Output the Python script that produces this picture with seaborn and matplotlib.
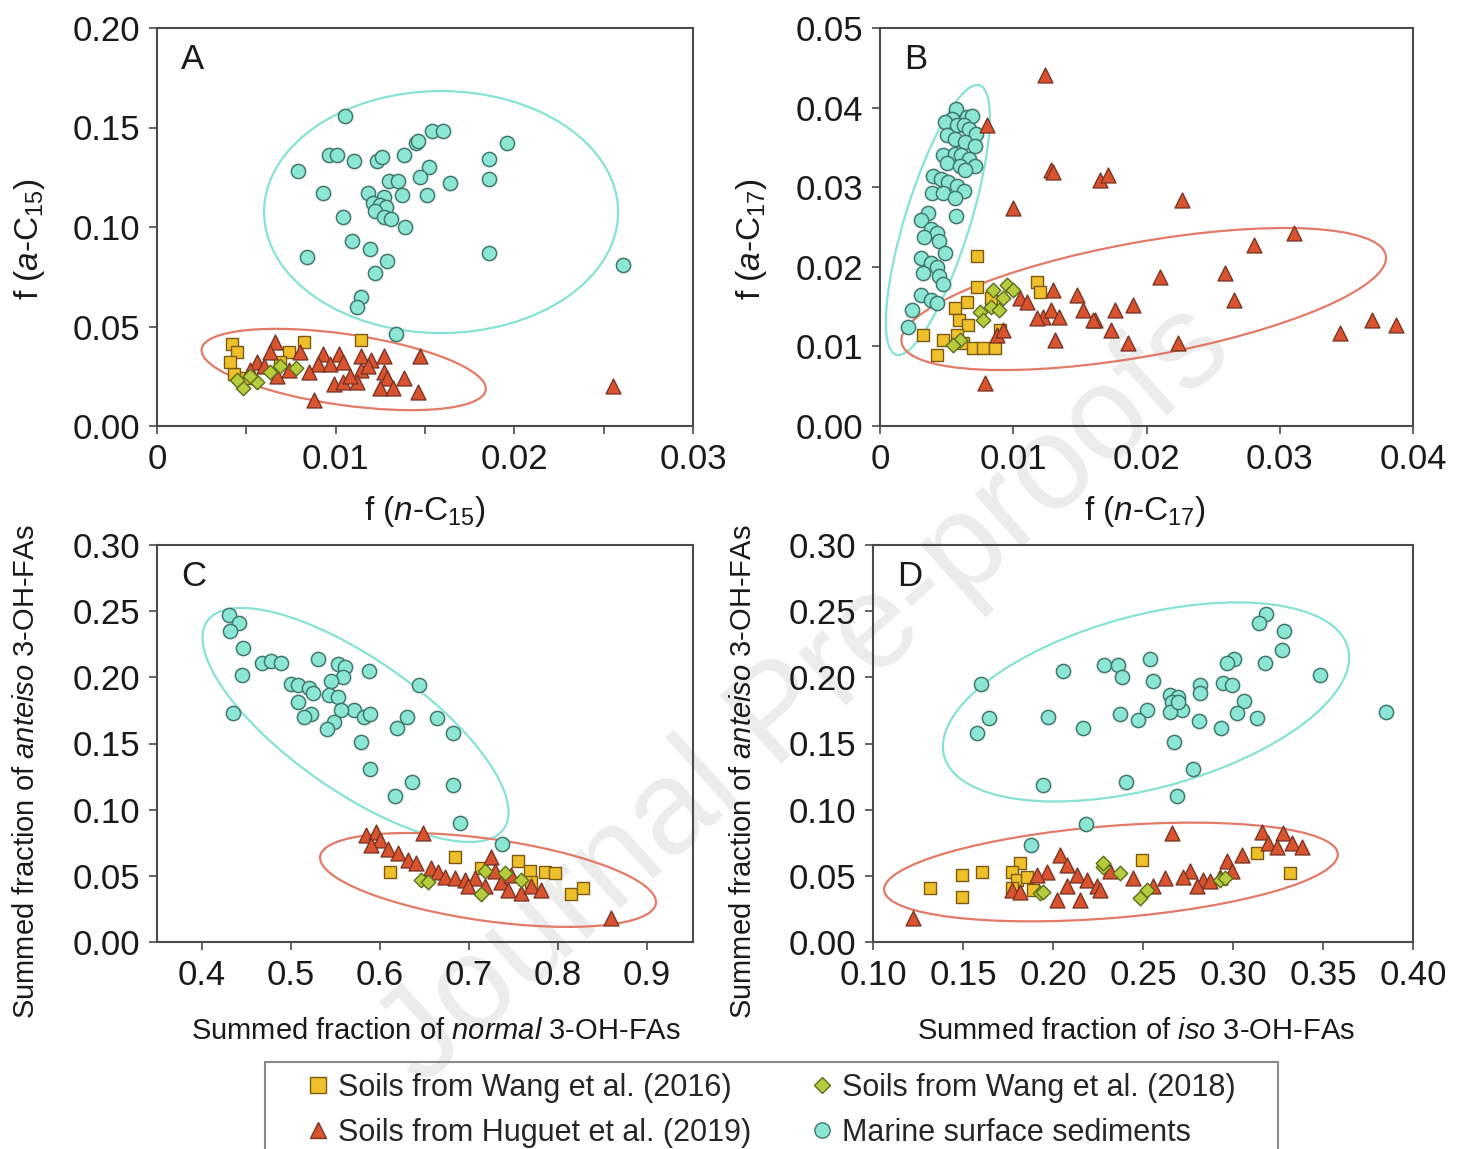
import matplotlib
matplotlib.use("Agg")
import matplotlib.pyplot as plt
import matplotlib.transforms as mtransforms
from matplotlib.patches import Ellipse, Rectangle
from matplotlib.lines import Line2D
from matplotlib.ticker import FuncFormatter, MultipleLocator
import numpy as np
import pandas as pd
import seaborn as sns

# ---------------------------------------------------------------- data
# Panel A: f(n-C15) vs f(a-C15)
A_marine_x = [0.0105, 0.0079, 0.0096, 0.0101, 0.0110, 0.0123, 0.0126, 0.0138, 0.0145, 0.0146, 0.0154,
              0.0160, 0.0196, 0.0186, 0.0186, 0.0164, 0.0152, 0.0147, 0.0130, 0.0135, 0.0093, 0.0118,
              0.0127, 0.0137, 0.0121, 0.0125, 0.0128, 0.0122, 0.0127, 0.0131, 0.0151, 0.0104, 0.0139,
              0.0109, 0.0119, 0.0084, 0.0129, 0.0122, 0.0186, 0.0261, 0.0114, 0.0112, 0.0134]
A_marine_y = [0.156, 0.128, 0.136, 0.136, 0.133, 0.133, 0.135, 0.136, 0.142, 0.143, 0.148,
              0.148, 0.142, 0.134, 0.124, 0.122, 0.130, 0.125, 0.123, 0.123, 0.117, 0.117,
              0.115, 0.116, 0.112, 0.111, 0.110, 0.108, 0.105, 0.104, 0.116, 0.105, 0.100,
              0.093, 0.089, 0.085, 0.083, 0.077, 0.087, 0.081, 0.065, 0.060, 0.046]
A_w16_x = [0.0042, 0.0045, 0.0043, 0.0074, 0.0082, 0.0114, 0.0041, 0.0069, 0.0050]
A_w16_y = [0.041, 0.037, 0.026, 0.037, 0.042, 0.043, 0.032, 0.032, 0.024]
A_w18_x = [0.0048, 0.0045, 0.0056, 0.0069, 0.0063, 0.0052, 0.0078]
A_w18_y = [0.019, 0.023, 0.022, 0.030, 0.027, 0.025, 0.029]
A_hug_x = [0.0066, 0.0063, 0.0080, 0.0093, 0.0102, 0.0114, 0.0120, 0.0127, 0.0090, 0.0097, 0.0104,
           0.0114, 0.0112, 0.0127, 0.0129, 0.0138, 0.0099, 0.0104, 0.0125, 0.0132, 0.0147, 0.0146,
           0.0088, 0.0056, 0.0052, 0.0067, 0.0074, 0.0255, 0.0060, 0.0085, 0.0108, 0.0118]
A_hug_y = [0.042, 0.037, 0.037, 0.036, 0.036, 0.035, 0.033, 0.035, 0.031, 0.031, 0.032,
           0.028, 0.022, 0.027, 0.024, 0.024, 0.021, 0.022, 0.019, 0.019, 0.035, 0.017,
           0.013, 0.032, 0.028, 0.025, 0.028, 0.020, 0.030, 0.027, 0.025, 0.030]

# Panel B: f(n-C17) vs f(a-C17)
B_marine_x = [0.0057, 0.0065, 0.0069, 0.0054, 0.0049, 0.0058, 0.0063, 0.0067, 0.0072, 0.0050, 0.0056,
              0.0064, 0.0071, 0.0047, 0.0056, 0.0061, 0.0067, 0.0071, 0.0050, 0.0060, 0.0064, 0.0040,
              0.0046, 0.0051, 0.0058, 0.0063, 0.0039, 0.0047, 0.0056, 0.0036, 0.0057, 0.0031, 0.0038,
              0.0043, 0.0033, 0.0044, 0.0049, 0.0031, 0.0038, 0.0043, 0.0032, 0.0044, 0.0047, 0.0031,
              0.0038, 0.0043, 0.0024, 0.0021]
B_marine_y = [0.0398, 0.0388, 0.0390, 0.0386, 0.0382, 0.0378, 0.0378, 0.0373, 0.0367, 0.0365, 0.0361,
              0.0357, 0.0352, 0.0340, 0.0342, 0.0340, 0.0335, 0.0327, 0.0331, 0.0327, 0.0321, 0.0314,
              0.0310, 0.0306, 0.0302, 0.0295, 0.0293, 0.0293, 0.0287, 0.0268, 0.0264, 0.0259, 0.0247,
              0.0243, 0.0238, 0.0232, 0.0217, 0.0211, 0.0205, 0.0200, 0.0192, 0.0188, 0.0179, 0.0165,
              0.0158, 0.0154, 0.0146, 0.0124]
B_w16_x = [0.0073, 0.0073, 0.0065, 0.0056, 0.0059, 0.0066, 0.0058, 0.0032, 0.0047, 0.0043, 0.0062,
           0.0070, 0.0077, 0.0086, 0.0090, 0.0118, 0.0120, 0.0083]
B_w16_y = [0.0213, 0.0175, 0.0156, 0.0148, 0.0133, 0.0127, 0.0114, 0.0114, 0.0108, 0.0089, 0.0104,
           0.0098, 0.0098, 0.0098, 0.0121, 0.0181, 0.0168, 0.0161]
B_w18_x = [0.0085, 0.0095, 0.0092, 0.0100, 0.0083, 0.0089, 0.0075, 0.0060, 0.0055, 0.0077]
B_w18_y = [0.0171, 0.0177, 0.0161, 0.0171, 0.0149, 0.0146, 0.0143, 0.0108, 0.0102, 0.0133]
B_hug_x = [0.0124, 0.0080, 0.0128, 0.0130, 0.0165, 0.0171, 0.0227, 0.0100, 0.0281, 0.0311, 0.0259,
           0.0210, 0.0266, 0.0190, 0.0148, 0.0176, 0.0152, 0.0131, 0.0161, 0.0173, 0.0186, 0.0224,
           0.0345, 0.0369, 0.0387, 0.0079, 0.0105, 0.0110, 0.0130, 0.0122, 0.0128, 0.0134, 0.0118,
           0.0160, 0.0088, 0.0092]
B_hug_y = [0.0441, 0.0378, 0.0322, 0.0319, 0.0309, 0.0315, 0.0284, 0.0274, 0.0227, 0.0242, 0.0192,
           0.0187, 0.0158, 0.0152, 0.0165, 0.0146, 0.0146, 0.0108, 0.0133, 0.0121, 0.0104, 0.0104,
           0.0117, 0.0133, 0.0127, 0.0054, 0.0161, 0.0156, 0.0171, 0.0137, 0.0146, 0.0137, 0.0136,
           0.0133, 0.0114, 0.0121]

# Panel C: normal vs anteiso
C_marine_x = [0.431, 0.442, 0.432, 0.447, 0.468, 0.478, 0.489, 0.445, 0.531, 0.553, 0.561, 0.588,
              0.559, 0.545, 0.500, 0.508, 0.521, 0.525, 0.543, 0.553, 0.508, 0.571, 0.557, 0.523,
              0.515, 0.583, 0.589, 0.549, 0.541, 0.644, 0.435, 0.619, 0.631, 0.665, 0.683, 0.579,
              0.589, 0.636, 0.683, 0.617, 0.690, 0.737]
C_marine_y = [0.247, 0.241, 0.235, 0.222, 0.211, 0.212, 0.211, 0.202, 0.214, 0.210, 0.208, 0.205,
              0.200, 0.197, 0.195, 0.194, 0.192, 0.188, 0.187, 0.185, 0.181, 0.175, 0.175, 0.172,
              0.170, 0.170, 0.172, 0.166, 0.161, 0.194, 0.173, 0.162, 0.170, 0.169, 0.158, 0.151,
              0.131, 0.121, 0.119, 0.110, 0.090, 0.074]
C_w16_x = [0.612, 0.685, 0.756, 0.769, 0.786, 0.797, 0.770, 0.815, 0.829, 0.714]
C_w16_y = [0.053, 0.064, 0.061, 0.054, 0.053, 0.052, 0.045, 0.036, 0.041, 0.056]
C_w18_x = [0.647, 0.654, 0.714, 0.718, 0.759, 0.741]
C_w18_y = [0.047, 0.045, 0.036, 0.054, 0.047, 0.052]
C_hug_x = [0.585, 0.596, 0.600, 0.590, 0.609, 0.621, 0.632, 0.641, 0.649, 0.658, 0.666, 0.674,
           0.685, 0.696, 0.707, 0.725, 0.730, 0.736, 0.748, 0.744, 0.759, 0.770, 0.781, 0.699,
           0.718, 0.860]
C_hug_y = [0.081, 0.083, 0.077, 0.073, 0.070, 0.067, 0.062, 0.060, 0.082, 0.056, 0.053, 0.049,
           0.048, 0.047, 0.048, 0.064, 0.054, 0.045, 0.051, 0.039, 0.037, 0.042, 0.039, 0.042,
           0.042, 0.018]

# Panel D: iso vs anteiso
D_marine_x = [0.3185, 0.3144, 0.3286, 0.3272, 0.3175, 0.3007, 0.2966, 0.3482, 0.2537, 0.2282, 0.2359,
              0.2057, 0.2381, 0.2554, 0.1601, 0.2944, 0.2997, 0.2819, 0.2819, 0.2650, 0.2694, 0.2661,
              0.2717, 0.2650, 0.2694, 0.3059, 0.3024, 0.3133, 0.2934, 0.2809, 0.2521, 0.2471, 0.2371,
              0.1973, 0.2167, 0.1644, 0.1580, 0.2673, 0.2778, 0.1942, 0.2406, 0.2690, 0.3850, 0.2182,
              0.1879]
D_marine_y = [0.248, 0.241, 0.235, 0.221, 0.211, 0.214, 0.211, 0.202, 0.214, 0.209, 0.209,
              0.205, 0.200, 0.197, 0.195, 0.196, 0.194, 0.194, 0.188, 0.187, 0.185, 0.181,
              0.175, 0.174, 0.181, 0.182, 0.173, 0.169, 0.162, 0.167, 0.175, 0.168, 0.172,
              0.170, 0.162, 0.169, 0.158, 0.151, 0.131, 0.119, 0.121, 0.110, 0.174, 0.089,
              0.073]
D_w16_x = [0.1317, 0.1493, 0.1604, 0.1493, 0.1817, 0.1771, 0.1798, 0.1854, 0.1771, 0.1889, 0.2493,
           0.3317, 0.3132]
D_w16_y = [0.041, 0.051, 0.053, 0.034, 0.060, 0.053, 0.047, 0.049, 0.041, 0.039, 0.062,
           0.052, 0.067]
D_w18_x = [0.1928, 0.1946, 0.2278, 0.2483, 0.2928, 0.2956, 0.2521, 0.2279, 0.2372]
D_w18_y = [0.037, 0.038, 0.057, 0.033, 0.047, 0.048, 0.039, 0.060, 0.052]
D_hug_x = [0.1224, 0.2039, 0.2076, 0.1965, 0.2132, 0.2187, 0.2243, 0.2021, 0.2150, 0.1771, 0.1817,
           0.2076, 0.1909, 0.2659, 0.3159, 0.3279, 0.3196, 0.3243, 0.3326, 0.3382, 0.3048, 0.2965,
           0.2761, 0.2835, 0.2724, 0.2622, 0.2557, 0.2446, 0.2317, 0.2261, 0.2798, 0.2928, 0.2993,
           0.2872]
D_hug_y = [0.018, 0.066, 0.058, 0.053, 0.051, 0.047, 0.042, 0.032, 0.032, 0.039, 0.038,
           0.042, 0.051, 0.082, 0.083, 0.082, 0.075, 0.072, 0.075, 0.072, 0.066, 0.061,
           0.054, 0.047, 0.049, 0.048, 0.042, 0.048, 0.054, 0.039, 0.042, 0.049, 0.054,
           0.046]

legend_labels = ["Soils from Wang et al. (2016)", "Soils from Huguet et al. (2019)",
                 "Soils from Wang et al. (2018)", "Marine surface sediments"]

# ---------------------------------------------------------------- styles
sns.set_theme(style="ticks")
plt.rcParams["font.family"] = ["Liberation Sans", "DejaVu Sans"]
plt.rcParams["mathtext.fontset"] = "custom"
plt.rcParams["mathtext.rm"] = "Liberation Sans"
plt.rcParams["mathtext.it"] = "Liberation Sans:italic"

DPI = 100
W, H = 1460, 1149
fig = plt.figure(figsize=(W / DPI, H / DPI), dpi=DPI)
fig.patch.set_facecolor("white")

# watermark (faint, behind the plots)
fig.text(0.552, 0.395, "Journal Pre-proofs", rotation=42, fontsize=96, color="#ececec",
         ha="center", va="center", zorder=-5)

STY = {
    "marine": dict(marker="o", color="#8be6d3", edgecolor="#41786e", s=105, linewidth=1.1),
    "w16": dict(marker="s", color="#f0c02a", edgecolor="#7a5a12", s=80, linewidth=1.0),
    "hug": dict(marker="^", color="#d9532e", edgecolor="#7a3526", s=115, linewidth=1.0),
    "w18": dict(marker="D", color="#b7cc3c", edgecolor="#5b6d1e", s=55, linewidth=1.0),
}
SPINE = "#4a4a4a"
CYAN_E = "#86e2d2"
RED_E = "#e27a68"


def px_axes(l, t, r, b):
    return fig.add_axes([l / W, 1 - b / H, (r - l) / W, (b - t) / H])


def ellipse(ax, cx, cy, wpx, hpx, ang, color):
    tr = fig.dpi_scale_trans + mtransforms.ScaledTranslation(cx, cy, ax.transData)
    e = Ellipse((0, 0), wpx / DPI, hpx / DPI, angle=ang, transform=tr, fill=False,
                edgecolor=color, linewidth=1.6, zorder=1)
    ax.add_patch(e)


def scat(ax, xs, ys, key):
    df = pd.DataFrame({"x": xs, "y": ys})
    sns.scatterplot(data=df, x="x", y="y", ax=ax, legend=False, zorder=2, **STY[key])


def style_axes(ax):
    ax.set_facecolor("none")
    for sp in ax.spines.values():
        sp.set_visible(True)
        sp.set_color(SPINE)
        sp.set_linewidth(1.5)
    ax.tick_params(which="both", direction="out", length=6, width=1.2, color=SPINE,
                   labelsize=25, labelcolor="#1a1a1a", pad=6)


def zero_fmt(v, pos):
    return "0" if abs(v) < 1e-12 else f"{v:.2f}"


panels = [
    dict(box=(157, 28, 693, 426), letter="A",
         data=[(A_marine_x, A_marine_y, "marine"), (A_w16_x, A_w16_y, "w16"),
               (A_hug_x, A_hug_y, "hug"), (A_w18_x, A_w18_y, "w18")],
         xlim=(0, 0.03), ylim=(0, 0.20), xmaj=0.01, xmin=0.005, ymaj=0.05,
         xfmt=FuncFormatter(zero_fmt), yfmt=FuncFormatter(lambda v, p: f"{v:.2f}"),
         xlabel=r"f ($\mathit{n}$-C$_{15}$)", ylabel=r"f ($\mathit{a}$-C$_{15}$)",
         lsize=24, xl=(0.5, -0.17), yl=(-0.205, 0.47),
         ell=[(0.0159, 0.1075, 354, 242, 0, CYAN_E), (0.01045, 0.0284, 287, 71, -8.2, RED_E)]),
    dict(box=(880, 28, 1413, 426), letter="B",
         data=[(B_marine_x, B_marine_y, "marine"), (B_w16_x, B_w16_y, "w16"),
               (B_hug_x, B_hug_y, "hug"), (B_w18_x, B_w18_y, "w18")],
         xlim=(0, 0.04), ylim=(0, 0.05), xmaj=0.01, xmin=None, ymaj=0.01,
         xfmt=FuncFormatter(zero_fmt), yfmt=FuncFormatter(lambda v, p: f"{v:.2f}"),
         xlabel=r"f ($\mathit{n}$-C$_{17}$)", ylabel=r"f ($\mathit{a}$-C$_{17}$)",
         lsize=24, xl=(0.497, -0.17), yl=(-0.208, 0.47),
         ell=[(0.00434, 0.02588, 282, 65, 72.8, CYAN_E), (0.01979, 0.01595, 492, 114, 10.2, RED_E)]),
    dict(box=(157, 545, 693, 942), letter="C",
         data=[(C_marine_x, C_marine_y, "marine"), (C_w16_x, C_w16_y, "w16"),
               (C_hug_x, C_hug_y, "hug"), (C_w18_x, C_w18_y, "w18")],
         xlim=(0.35, 0.952), ylim=(0, 0.30), xmaj=0.1, xmin=None, ymaj=0.05,
         xfmt=FuncFormatter(lambda v, p: f"{v:.1f}"), yfmt=FuncFormatter(lambda v, p: f"{v:.2f}"),
         xlabel=r"Summed fraction of $\mathit{normal}$ 3-OH-FAs",
         ylabel=r"Summed fraction of $\mathit{anteiso}$ 3-OH-FAs",
         lsize=21, xl=(0.52, -0.19), yl=(-0.218, 0.43),
         ell=[(0.573, 0.164, 362, 132, -35, CYAN_E), (0.7218, 0.0469, 339, 82, -8, RED_E)]),
    dict(box=(873, 545, 1413, 942), letter="D",
         data=[(D_marine_x, D_marine_y, "marine"), (D_w16_x, D_w16_y, "w16"),
               (D_hug_x, D_hug_y, "hug"), (D_w18_x, D_w18_y, "w18")],
         xlim=(0.10, 0.40), ylim=(0, 0.30), xmaj=0.05, xmin=None, ymaj=0.05,
         xfmt=FuncFormatter(lambda v, p: f"{v:.2f}"), yfmt=FuncFormatter(lambda v, p: f"{v:.2f}"),
         xlabel=r"Summed fraction of $\mathit{iso}$ 3-OH-FAs",
         ylabel=r"Summed fraction of $\mathit{anteiso}$ 3-OH-FAs",
         lsize=21, xl=(0.487, -0.19), yl=(-0.215, 0.43),
         ell=[(0.2517, 0.1814, 418, 173, 15, CYAN_E), (0.2322, 0.0529, 455, 92, 4.6, RED_E)]),
]

for p in panels:
    ax = px_axes(*p["box"])
    style_axes(ax)
    ax.set_xlim(*p["xlim"])
    ax.set_ylim(*p["ylim"])
    for xs, ys, key in p["data"]:
        scat(ax, xs, ys, key)
    for (cx, cy, w, h, a, c) in p["ell"]:
        ellipse(ax, cx, cy, w, h, a, c)
    ax.xaxis.set_major_locator(MultipleLocator(p["xmaj"]))
    if p["xmin"]:
        ax.xaxis.set_minor_locator(MultipleLocator(p["xmin"]))
    ax.yaxis.set_major_locator(MultipleLocator(p["ymaj"]))
    ax.xaxis.set_major_formatter(p["xfmt"])
    ax.yaxis.set_major_formatter(p["yfmt"])
    ax.set_xlim(*p["xlim"])
    ax.set_ylim(*p["ylim"])
    ax.set_xlabel(p["xlabel"], fontsize=p["lsize"], color="#1a1a1a")
    ax.set_ylabel(p["ylabel"], fontsize=p["lsize"], color="#1a1a1a")
    ax.xaxis.set_label_coords(*p["xl"])
    ax.yaxis.set_label_coords(*p["yl"])
    ax.text(0.045, 0.92, p["letter"], transform=ax.transAxes, fontsize=25,
            color="#1a1a1a", ha="left", va="center")

# ---------------------------------------------------------------- legend
order = ["w16", "hug", "w18", "marine"]
handles = []
for k in order:
    st = STY[k]
    handles.append(Line2D([], [], linestyle="", marker=st["marker"], markerfacecolor=st["color"],
                          markeredgecolor=st["edgecolor"], markeredgewidth=1.0,
                          markersize=11 if k != "w18" else 8))
leg = fig.legend(handles, legend_labels, ncol=2, loc="upper left",
                 bbox_to_anchor=(300 / W, 1 - 1067 / H), fontsize=22, frameon=False,
                 handlelength=0.8, handletextpad=0.25, columnspacing=1.9,
                 borderpad=0.2, labelspacing=0.48, borderaxespad=0)
# legend box outline (runs off the bottom edge as in the reference)
fig.add_artist(Rectangle((265 / W, -0.02), (1278 - 265) / W, 0.02 + (1149 - 1062) / H,
                         transform=fig.transFigure, fill=False, edgecolor="#8a8a8a",
                         linewidth=1.5, zorder=3))

fig.savefig("out.png", dpi=DPI, facecolor="white")
